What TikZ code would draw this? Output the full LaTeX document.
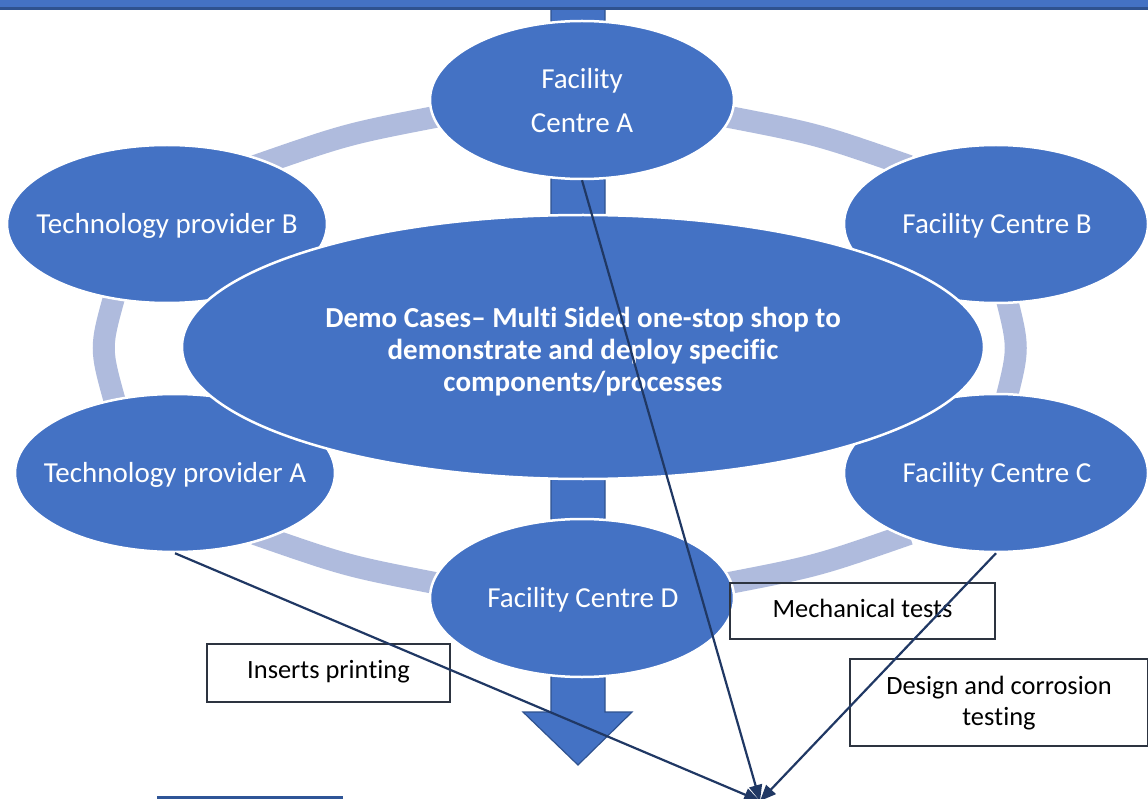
\documentclass[tikz,border=0pt]{standalone}
\usepackage{fontspec}
\setmainfont{Carlito}[RawFeature={-liga;-clig;-rlig;-calt;-dlig}]
\usetikzlibrary{shapes.geometric,arrows.meta}
\definecolor{mblue}{RGB}{68,114,196}
\definecolor{dblue}{RGB}{47,82,143}
\definecolor{ringc}{RGB}{175,187,221}
\definecolor{navy}{RGB}{32,56,100}
\definecolor{boxc}{RGB}{45,52,64}
\definecolor{footc}{RGB}{47,85,151}
\begin{document}
\begin{tikzpicture}[x=1pt,y=-1pt,
  bub/.style={ellipse, fill=mblue, draw=white, line width=2.5pt, inner sep=0pt, minimum height=158pt},
  fac/.style={bub, minimum width=304pt},
  tech/.style={bub, minimum width=320pt},
  lbl/.style={text=white, inner sep=0pt, align=center, font=\fontsize{29}{44}\selectfont},
  clbl/.style={text=white, inner sep=0pt, align=center, font=\fontsize{29}{32}\selectfont\bfseries},
  ringseg/.style={draw=ringc, line width=22pt},
  tbox/.style={draw=boxc, line width=1.5pt, inner sep=0pt},
  tlbl/.style={text=black, inner sep=0pt, align=center, font=\fontsize{26.4}{31}\selectfont},
  conn/.style={draw=navy, line width=2.2pt, -{Triangle[length=16pt,width=13pt]}}
]
\useasboundingbox (0,0) rectangle (1148,799);
\clip (0,0) rectangle (1148,799);
\fill[white] (0,0) rectangle (1148,799);

% big vertical arrow behind everything
\filldraw[fill=mblue, draw=dblue, line width=1.2pt]
  (551,-10) -- (605,-10) -- (605,712) -- (632,712) -- (578,765) -- (523,712) -- (551,712) -- cycle;

% ring segments
\draw[ringseg] (255,166) .. controls (347,134) .. (440,116);
\draw[ringseg] (724,116) .. controls (817,134) .. (909,166);
\draw[ringseg] (1006,296) .. controls (1019,348) .. (1006,400);
\draw[ringseg] (909,534) .. controls (817,566) .. (724,584);
\draw[ringseg] (440,584) .. controls (347,566) .. (255,534);
\draw[ringseg] (115,402) .. controls (100,348) .. (115,294);

% outer ellipses
\node[fac] (fcA) at (582,100) {};
\node[tech] (techB) at (167,224) {};
\node[fac] (fcB) at (996,224) {};
\node[tech] (techA) at (175,473) {};
\node[fac] (fcC) at (996,473) {};
\node[fac] (fcD) at (582,598) {};
% central ellipse
\node[bub, minimum width=802pt, minimum height=264pt] (core) at (583,347) {};

\node[lbl] at (582,101) {Facility\\Centre A};
\node[lbl] at (167,226) {Technology provider B};
\node[lbl] at (997,226) {Facility Centre B};
\node[lbl] at (175,475) {Technology provider A};
\node[lbl] at (997,475) {Facility Centre C};
\node[lbl] at (583,600) {Facility Centre D};
\node[clbl] at (583,352) {Demo Cases– Multi Sided one-stop shop to\\demonstrate and deploy speci\kern0pt fic\\components/processes};

% top band
\fill[mblue] (-5,-5) rectangle (1153,9);
\draw[dblue, line width=3pt] (-5,9) -- (1153,9);

% footer line
\fill[footc] (157,796) rectangle (343,801);

% text boxes
\node[tbox, minimum width=243pt, minimum height=58pt] (bIns) at (328.5,673) {};
\node[tlbl] at (328.5,672) {Inserts prin\kern0pt ting};
\node[tbox, minimum width=265pt, minimum height=56pt] (bMech) at (862.5,611) {};
\node[tlbl] at (862.5,608) {Mechanical tests};
\node[tbox, minimum width=298pt, minimum height=87pt] (bDes) at (999,702.5) {};
\node[tlbl] at (999,703.5) {Design and corrosion\\tes\kern0pt ting};

% connectors
\coordinate (tgt) at (760,801);
\draw[conn] (fcA.south) -- (tgt);
\draw[conn] (techA.south) -- (tgt);
\draw[conn] (fcC.south) -- (tgt);
\end{tikzpicture}
\end{document}
